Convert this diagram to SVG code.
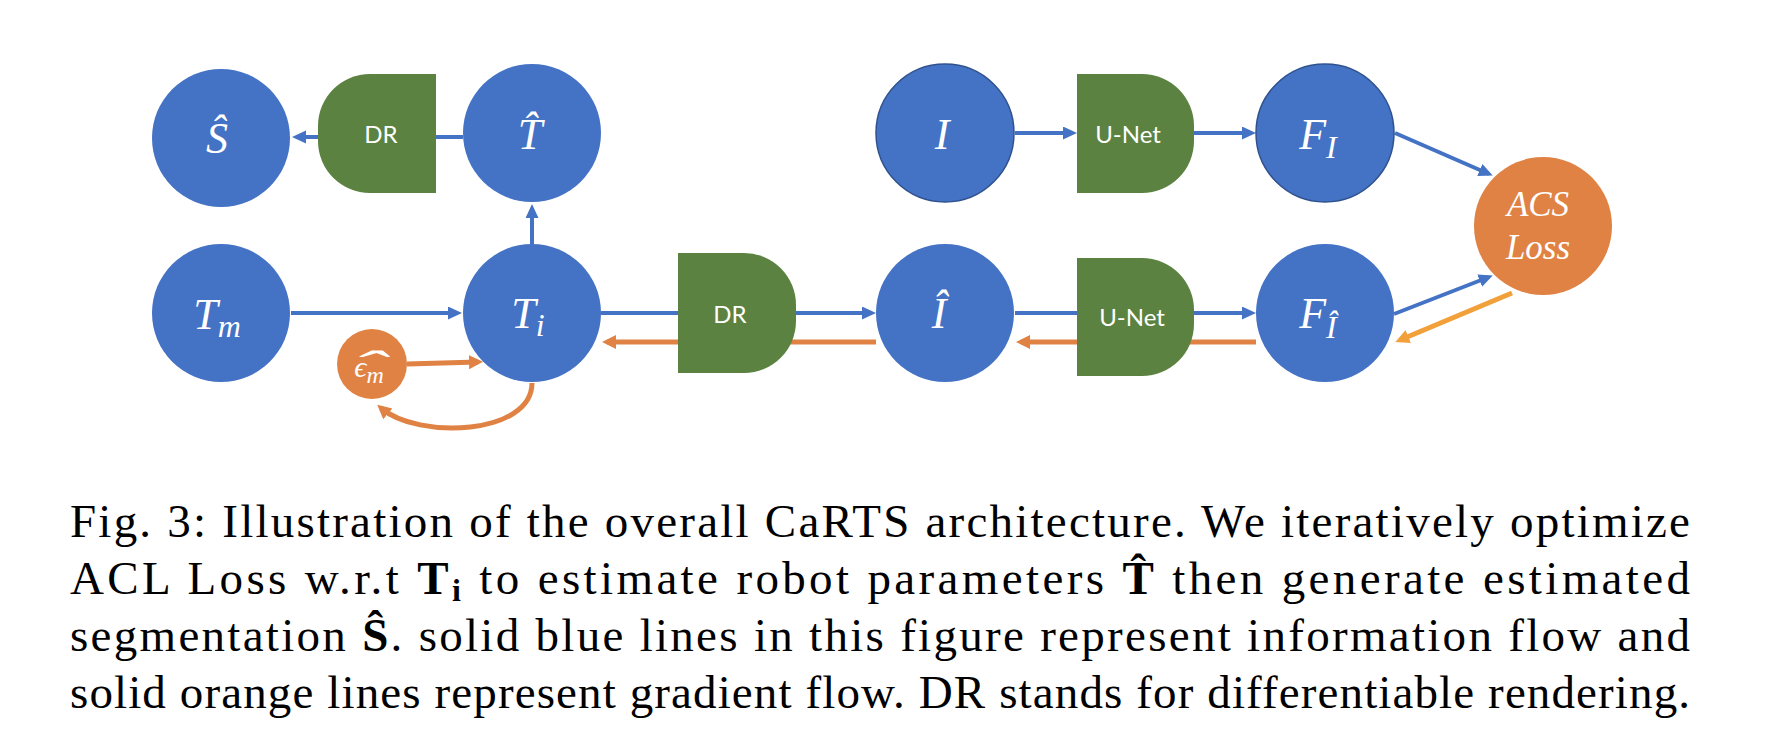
<svg xmlns="http://www.w3.org/2000/svg" width="1778" height="756" viewBox="0 0 1778 756">
<style>
.blue{fill:#4472C4}
.outl{stroke:#2F528F;stroke-width:1.5}
.green{fill:#5B8240}
.orange{fill:#E08244}
.lb{fill:none;stroke:#4472C4;stroke-width:4}
.lo{fill:none;stroke:#E08244;stroke-width:5}
.ly{fill:none;stroke:#F2A13A;stroke-width:5}
.m{font-family:"Liberation Serif","DejaVu Serif",serif;font-style:italic;fill:#fff}
.s{font-family:Lato,"Open Sans","Liberation Sans",sans-serif;fill:#fff;font-size:24px}
.cap{font-family:"Liberation Serif","DejaVu Serif",serif;font-size:47px;fill:#000}
.b{font-weight:bold}
</style>
<defs>
<marker id="ab" markerUnits="userSpaceOnUse" markerWidth="16" markerHeight="14" refX="10" refY="6.5" orient="auto"><path d="M0,0 L14,6.5 L0,13 z" fill="#4472C4"/></marker>
<marker id="ao" markerUnits="userSpaceOnUse" markerWidth="16" markerHeight="16" refX="9" refY="7" orient="auto"><path d="M0,0 L14,7 L0,14 z" fill="#E08244"/></marker>
<marker id="ay" markerUnits="userSpaceOnUse" markerWidth="16" markerHeight="16" refX="9" refY="7" orient="auto"><path d="M0,0 L14,7 L0,14 z" fill="#F2A13A"/></marker>
</defs>
<rect width="1778" height="756" fill="#fff"/>
<g id="connectors">
<line class="lb" x1="463" y1="137" x2="296" y2="137" marker-end="url(#ab)"/>
<line class="lb" x1="532" y1="244" x2="532" y2="208" marker-end="url(#ab)"/>
<line class="lb" x1="291" y1="313" x2="458" y2="313" marker-end="url(#ab)"/>
<line class="lb" x1="601" y1="313" x2="872" y2="313" marker-end="url(#ab)"/>
<line class="lb" x1="1015" y1="313" x2="1252" y2="313" marker-end="url(#ab)"/>
<line class="lb" x1="1015" y1="133" x2="1073" y2="133" marker-end="url(#ab)"/>
<line class="lb" x1="1194" y1="133" x2="1252" y2="133" marker-end="url(#ab)"/>
<line class="lb" x1="1395" y1="133" x2="1489" y2="174" marker-end="url(#ab)"/>
<line class="lb" x1="1394" y1="314" x2="1489" y2="277" marker-end="url(#ab)"/>
<line class="lo" x1="1256" y1="342" x2="1021" y2="342" marker-end="url(#ao)"/>
<line class="lo" x1="876" y1="342" x2="607" y2="342" marker-end="url(#ao)"/>
<line class="lo" x1="407" y1="364" x2="478" y2="362" marker-end="url(#ao)"/>
<path class="lo" d="M532 383 C532 435 418 440 381 408" marker-end="url(#ao)"/>
<line class="ly" x1="1512" y1="293" x2="1400" y2="340" marker-end="url(#ay)"/>
</g>
<g id="node-S-hat">
<circle class="blue" cx="221" cy="138" r="69"/>
<text class="m" x="217" y="153" font-size="44" text-anchor="middle">Ŝ</text>
</g>
<g id="node-DR-top">
<path class="green" d="M436 74 V193 H370 A52 52 0 0 1 318 141 V126 A52 52 0 0 1 370 74 Z"/>
<text class="s" x="381" y="143" text-anchor="middle">DR</text>
</g>
<g id="node-T-hat">
<circle class="blue" cx="532" cy="133" r="69"/>
<text class="m" x="530" y="149" font-size="44" text-anchor="middle">T̂</text>
</g>
<g id="node-Tm">
<circle class="blue" cx="221" cy="313" r="69"/>
<text class="m" x="217" y="329" font-size="44" text-anchor="middle">T<tspan font-size="32" dy="8">m</tspan></text>
</g>
<g id="node-Ti">
<circle class="blue" cx="532" cy="313" r="69"/>
<text class="m" x="528" y="328" font-size="44" text-anchor="middle">T<tspan font-size="32" dy="8">i</tspan></text>
</g>
<g id="node-eps">
<circle class="orange" cx="372" cy="364" r="35"/>
<text class="m" x="369" y="377" font-size="30" text-anchor="middle">ϵ<tspan font-size="24" dy="6">m</tspan></text>
<text class="m" font-size="30" text-anchor="middle" transform="translate(368,381) scale(3.5,1.5)">ˆ</text>
</g>
<g id="node-DR-bottom">
<path class="green" d="M678 253 H744 A52 52 0 0 1 796 305 V321 A52 52 0 0 1 744 373 H678 Z"/>
<text class="s" x="730" y="323" text-anchor="middle">DR</text>
</g>
<g id="node-I-hat">
<circle class="blue" cx="945" cy="313" r="69"/>
<text class="m" x="939" y="328" font-size="44" text-anchor="middle">Î</text>
</g>
<g id="node-I">
<circle class="blue outl" cx="945" cy="133" r="69"/>
<text class="m" x="942" y="149" font-size="44" text-anchor="middle">I</text>
</g>
<g id="node-UNet-top">
<path class="green" d="M1077 74 H1142 A52 52 0 0 1 1194 126 V141 A52 52 0 0 1 1142 193 H1077 Z"/>
<text class="s" x="1128" y="143" text-anchor="middle">U-Net</text>
</g>
<g id="node-UNet-bottom">
<path class="green" d="M1077 258 H1142 A52 52 0 0 1 1194 310 V324 A52 52 0 0 1 1142 376 H1077 Z"/>
<text class="s" x="1132" y="326" text-anchor="middle">U-Net</text>
</g>
<g id="node-FI">
<circle class="blue outl" cx="1325" cy="133" r="69"/>
<text class="m" x="1318" y="149" font-size="44" text-anchor="middle">F<tspan font-size="32" dy="9">I</tspan></text>
</g>
<g id="node-FI-hat">
<circle class="blue" cx="1325" cy="313" r="69"/>
<text class="m" x="1318" y="328" font-size="44" text-anchor="middle">F<tspan font-size="32" dy="10">Î</tspan></text>
</g>
<g id="node-ACS">
<circle class="orange" cx="1543" cy="226" r="69"/>
<text class="m" x="1538" y="216" font-size="35" text-anchor="middle">ACS</text>
<text class="m" x="1538" y="259" font-size="35" text-anchor="middle">Loss</text>
</g>
<g id="caption">
<text class="cap" x="70" y="537" textLength="1620" lengthAdjust="spacing">Fig. 3: Illustration of the overall CaRTS architecture. We iteratively optimize</text>
<text class="cap" x="70" y="594" textLength="1620" lengthAdjust="spacing">ACL Loss w.r.t <tspan class="b">T</tspan><tspan class="b" font-size="32" dy="7">i</tspan><tspan dy="-7"> to estimate robot parameters </tspan><tspan class="b">T̂</tspan> then generate estimated</text>
<text class="cap" x="70" y="651" textLength="1620" lengthAdjust="spacing">segmentation <tspan class="b">Ŝ</tspan>. solid blue lines in this figure represent information flow and</text>
<text class="cap" x="70" y="708" textLength="1620" lengthAdjust="spacing">solid orange lines represent gradient flow. DR stands for differentiable rendering.</text>
</g>
</svg>
